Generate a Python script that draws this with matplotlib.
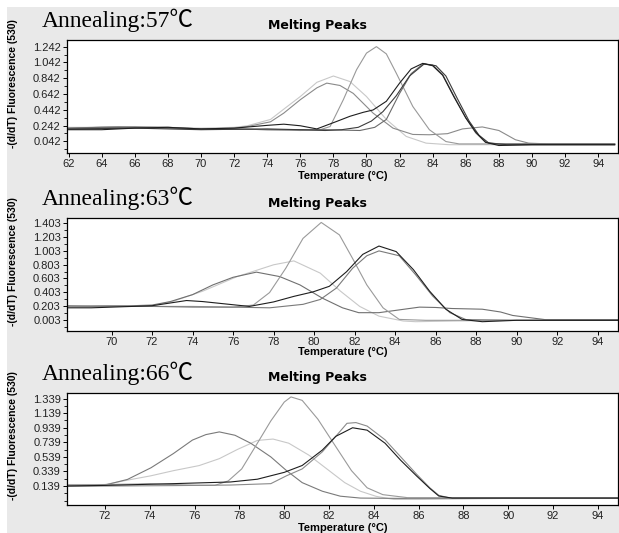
import matplotlib
matplotlib.use("Agg")
import matplotlib.pyplot as plt
from matplotlib.patches import Rectangle
from matplotlib.ticker import AutoMinorLocator

# ---------------- data: melting peaks, annealing 57 C ----------------
p1_a_x = [62, 64, 66, 68, 70, 72, 72.8, 74.2, 75, 76, 77, 78, 79, 80, 81.2, 82.4, 83.6, 85, 90, 95]
p1_a_y = [0.22, 0.22, 0.23, 0.22, 0.21, 0.22, 0.24, 0.32, 0.45, 0.61, 0.79, 0.87, 0.80, 0.61, 0.32, 0.105, 0.02, 0.0, 0.0, 0.0]
p1_b_x = [62, 64, 66, 68, 70, 72, 72.8, 74.2, 75, 76, 77, 77.6, 78.4, 79.2, 80.4, 81.6, 82.8, 83.8, 84.9, 85.8, 87.0, 88.0, 89.0, 89.8, 91, 95]
p1_b_y = [0.20, 0.21, 0.22, 0.22, 0.20, 0.21, 0.23, 0.29, 0.40, 0.57, 0.72, 0.78, 0.75, 0.65, 0.40, 0.21, 0.13, 0.126, 0.14, 0.20, 0.225, 0.18, 0.063, 0.02, 0.01, 0.01]
p1_c_x = [62, 65, 68, 70, 72, 74, 76, 77.2, 77.8, 78.6, 79.4, 80.0, 80.6, 81.2, 81.8, 82.8, 83.8, 84.8, 85.6, 88, 95]
p1_c_y = [0.21, 0.23, 0.22, 0.20, 0.20, 0.19, 0.18, 0.19, 0.23, 0.57, 0.95, 1.16, 1.242, 1.15, 0.906, 0.484, 0.19, 0.04, 0.01, 0.01, 0.01]
p1_d_x = [62, 64, 66, 68, 70, 72, 74, 75, 76, 77, 78.2, 79, 79.8, 80.4, 81.2, 82, 82.7, 83.4, 84, 84.6, 85.3, 86, 86.6, 87.2, 88, 90, 95]
p1_d_y = [0.19, 0.19, 0.21, 0.22, 0.20, 0.21, 0.245, 0.26, 0.24, 0.20, 0.295, 0.36, 0.41, 0.44, 0.55, 0.78, 0.96, 1.03, 1.0, 0.88, 0.60, 0.34, 0.16, 0.03, -0.01, 0.0, 0.0]
p1_e_x = [62, 64, 66, 68, 70, 72, 74, 76, 77.4, 78.5, 79.6, 80.5, 81.2, 82, 82.7, 83.4, 84, 84.6, 85.3, 86, 86.6, 87.2, 88, 90, 95]
p1_e_y = [0.21, 0.22, 0.22, 0.21, 0.20, 0.20, 0.19, 0.19, 0.19, 0.185, 0.18, 0.22, 0.32, 0.65, 0.90, 1.02, 1.01, 0.89, 0.61, 0.34, 0.15, 0.03, 0.01, 0.01, 0.01]
p1_f_x = [62, 66, 70, 74, 76, 77.5, 78.5, 79.5, 80.3, 81, 81.8, 82.6, 83.5, 84.2, 84.8, 85.5, 86.2, 86.8, 87.4, 88.5, 90, 95]
p1_f_y = [0.20, 0.21, 0.19, 0.20, 0.19, 0.18, 0.19, 0.22, 0.30, 0.42, 0.62, 0.87, 1.025, 1.0, 0.87, 0.58, 0.30, 0.12, 0.02, 0.0, 0.0, 0.0]

# ---------------- annealing 63 C ----------------
p2_a_x = [67.8, 69, 70, 71, 72, 72.9, 74.0, 75.0, 76.0, 77.15, 78.3, 79.3, 80.4, 81.4, 82.2, 83.2, 84.2, 85.2, 86.0, 86.8, 88.3, 89.2, 89.8, 90.6, 91.4, 93, 95]
p2_a_y = [0.20, 0.20, 0.21, 0.21, 0.22, 0.27, 0.37, 0.51, 0.62, 0.694, 0.63, 0.51, 0.32, 0.18, 0.11, 0.11, 0.15, 0.19, 0.185, 0.17, 0.16, 0.12, 0.07, 0.04, 0.01, 0.01, 0.01]
p2_b_x = [67.8, 69, 70, 71, 72, 73.0, 74.5, 76.2, 78.0, 79.0, 80.3, 81.3, 82.25, 83.2, 84.4, 85.0, 87, 90, 95]
p2_b_y = [0.19, 0.19, 0.20, 0.20, 0.21, 0.27, 0.42, 0.63, 0.80, 0.856, 0.68, 0.42, 0.20, 0.06, -0.01, -0.02, -0.01, 0.0, 0.0]
p2_c_x = [67.8, 70, 72, 74, 76, 77.0, 77.8, 78.6, 79.45, 80.35, 81.25, 81.9, 82.6, 83.4, 84.2, 85.5, 88, 95]
p2_c_y = [0.20, 0.21, 0.20, 0.20, 0.19, 0.22, 0.40, 0.75, 1.18, 1.41, 1.23, 0.89, 0.51, 0.18, 0.013, 0.0, 0.0, 0.0]
p2_d_x = [67.8, 69, 70, 72, 73.7, 74.5, 76.8, 78.0, 79.0, 79.95, 80.75, 81.6, 82.4, 83.2, 84.05, 84.9, 85.7, 86.5, 87.3, 88.3, 90, 95]
p2_d_y = [0.18, 0.18, 0.19, 0.21, 0.285, 0.27, 0.20, 0.265, 0.345, 0.41, 0.49, 0.70, 0.95, 1.07, 0.99, 0.73, 0.42, 0.16, 0.013, -0.02, 0.0, 0.0]
p2_e_x = [67.8, 70, 72, 74, 76, 77.8, 79.45, 80.3, 81.1, 81.9, 82.6, 83.2, 84.2, 85.0, 85.85, 86.7, 87.5, 90, 95]
p2_e_y = [0.21, 0.20, 0.20, 0.19, 0.19, 0.18, 0.23, 0.30, 0.465, 0.75, 0.93, 1.0, 0.93, 0.66, 0.35, 0.11, 0.01, 0.0, 0.0]

# ---------------- annealing 66 C ----------------
p3_a_x = [70.3, 71, 72, 73, 74.05, 75.05, 75.9, 76.5, 77.1, 77.8, 78.5, 79.4, 80.1, 80.8, 81.7, 82.5, 83.4, 85, 88, 95]
p3_a_y = [0.15, 0.15, 0.153, 0.23, 0.39, 0.585, 0.77, 0.845, 0.882, 0.836, 0.727, 0.539, 0.351, 0.186, 0.068, 0.0, -0.026, -0.03, -0.03, -0.03]
p3_b_x = [70.3, 71, 72, 73, 74.05, 75.05, 76.2, 77.1, 77.9, 78.8, 79.5, 80.2, 81.1, 82.0, 82.7, 83.4, 84.1, 84.9, 86, 90, 95]
p3_b_y = [0.16, 0.16, 0.16, 0.22, 0.28, 0.35, 0.42, 0.515, 0.64, 0.765, 0.784, 0.727, 0.563, 0.351, 0.186, 0.068, -0.002, -0.045, -0.045, -0.03, -0.03]
p3_c_x = [70.3, 72, 74, 76, 76.9, 77.5, 78.1, 78.8, 79.4, 80.0, 80.3, 80.8, 81.5, 82.3, 83.0, 83.7, 84.4, 85.5, 88, 95]
p3_c_y = [0.15, 0.16, 0.17, 0.15, 0.148, 0.21, 0.374, 0.727, 1.033, 1.292, 1.362, 1.315, 1.057, 0.68, 0.351, 0.115, 0.021, -0.02, -0.02, -0.02]
p3_d_x = [70.3, 72, 75.05, 77.6, 78.8, 80.0, 80.8, 81.7, 82.3, 83.05, 83.7, 84.5, 85.2, 85.9, 86.5, 86.9, 87.5, 90, 95]
p3_d_y = [0.14, 0.148, 0.172, 0.195, 0.233, 0.327, 0.421, 0.633, 0.821, 0.939, 0.906, 0.727, 0.492, 0.28, 0.106, 0.002, -0.026, -0.026, -0.026]
p3_e_x = [70.3, 72, 75, 77.6, 79.4, 80.1, 80.8, 81.7, 82.3, 82.8, 83.2, 83.7, 84.5, 85.2, 85.9, 86.5, 86.9, 87.4, 90, 95]
p3_e_y = [0.135, 0.139, 0.145, 0.153, 0.172, 0.28, 0.374, 0.609, 0.821, 1.0, 1.01, 0.962, 0.774, 0.539, 0.304, 0.115, 0.012, -0.026, -0.026, -0.026]

panel_titles = ["Annealing:57\u2103", "Annealing:63\u2103", "Annealing:66\u2103"]
y_ticks = [
    [0.042, 0.242, 0.442, 0.642, 0.842, 1.042, 1.242],
    [0.003, 0.203, 0.403, 0.603, 0.803, 1.003, 1.203, 1.403],
    [0.139, 0.339, 0.539, 0.739, 0.939, 1.139, 1.339],
]
x_ticks = [
    list(range(62, 96, 2)),
    list(range(70, 96, 2)),
    list(range(72, 96, 2)),
]

curves = [
    [(p1_a_x, p1_a_y, "#c8c8c8"), (p1_b_x, p1_b_y, "#8a8a8a"), (p1_c_x, p1_c_y, "#999999"),
     (p1_e_x, p1_e_y, "#6a6a6a"), (p1_f_x, p1_f_y, "#3c3c3c"), (p1_d_x, p1_d_y, "#1e1e1e")],
    [(p2_b_x, p2_b_y, "#c8c8c8"), (p2_a_x, p2_a_y, "#707070"), (p2_c_x, p2_c_y, "#9a9a9a"),
     (p2_e_x, p2_e_y, "#7a7a7a"), (p2_d_x, p2_d_y, "#1e1e1e")],
    [(p3_b_x, p3_b_y, "#c8c8c8"), (p3_a_x, p3_a_y, "#7a7a7a"), (p3_c_x, p3_c_y, "#9a9a9a"),
     (p3_e_x, p3_e_y, "#8a8a8a"), (p3_d_x, p3_d_y, "#1e1e1e")],
]

# layout in pixels (top, bottom of each axes), xlim, ylim
W, H = 619, 533
ax_left, ax_right = 67, 618
ax_tops = [40, 218, 393]
ax_bottoms = [153, 331, 505]
x_lims = [(61.9, 95.2), (67.8, 95.0), (70.3, 94.9)]
y_lims = [(-0.105, 1.326), (-0.154, 1.474), (-0.121, 1.416)]
xlabel_y = [176, 352, 528]

fig = plt.figure(figsize=(W / 100, H / 100), dpi=100)
fig.patch.set_facecolor("white")
# grey window background, thin white strip on the left and top
fig.patches.append(Rectangle((7 / W, 0), 1, (H - 7) / H, transform=fig.transFigure,
                             facecolor="#e9e9e9", edgecolor="none", zorder=-10))

sans = "Liberation Sans"

for i in range(3):
    ax = fig.add_axes([ax_left / W, 1 - ax_bottoms[i] / H,
                       (ax_right - ax_left) / W, (ax_bottoms[i] - ax_tops[i]) / H])
    ax.set_facecolor("white")
    for xs, ys, col in curves[i]:
        ax.plot(xs, ys, color=col, linewidth=0.8)
    ax.set_xlim(*x_lims[i])
    ax.set_ylim(*y_lims[i])
    ax.set_xticks(x_ticks[i])
    ax.set_yticks(y_ticks[i])
    ax.set_yticklabels(["%.3f" % v for v in y_ticks[i]])
    ax.yaxis.set_minor_locator(AutoMinorLocator(2))
    ax.tick_params(axis="both", direction="out", length=3, width=0.7, pad=1.5,
                   labelsize=8, colors="black")
    ax.tick_params(axis="y", which="minor", length=2, width=0.6)
    for lab in ax.get_xticklabels() + ax.get_yticklabels():
        lab.set_family(sans)
        lab.set_color("#222222")
    for sp in ax.spines.values():
        sp.set_linewidth(0.9)
        sp.set_color("black")

    # panel header and labels
    top = ax_tops[i]
    fig.text(41.5 / W, 1 - (top - 12.7) / H, panel_titles[i], fontsize=17,
             family=["Liberation Serif", "Noto Sans CJK SC", "DejaVu Serif"],
             ha="left", va="baseline")
    fig.text(317 / W, 1 - (top - 15) / H, "Melting Peaks", fontsize=9, fontweight="bold",
             family="DejaVu Sans", ha="center", va="center")
    fig.text((ax_left + ax_right) / 2 / W, 1 - xlabel_y[i] / H, "Temperature (\u00b0C)",
             fontsize=8, fontweight="bold", family=sans, ha="center", va="center")
    ymid = (ax_tops[i] + ax_bottoms[i]) / 2 - 13
    fig.text(13 / W, 1 - ymid / H, "-(d/dT) Fluorescence (530)", fontsize=7.5,
             fontweight="bold", family=sans, rotation=90, ha="center", va="center")

fig.savefig("out.png", dpi=100, facecolor=fig.get_facecolor())
